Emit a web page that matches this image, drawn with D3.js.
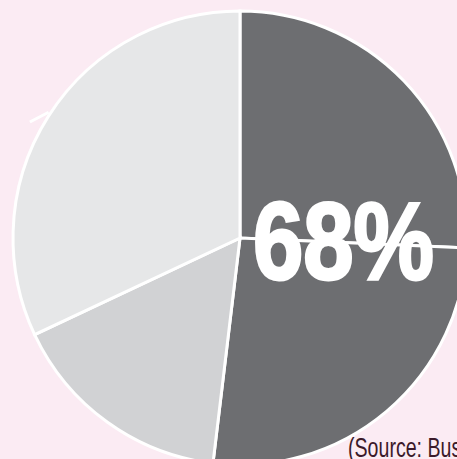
<!DOCTYPE html>
<html lang="en">
	<head>
		<meta charset="utf-8">
		<title>68% pie</title>
		<script type="text/javascript" src="https://d3js.org/d3.v7.min.js"></script>
		<style type="text/css">
            html, body {
                margin: 0;
                padding: 0;
                background: #fbebf3;
                overflow: hidden;
            }
            .slice {
                stroke: #ffffff;
                stroke-width: 3px;
            }
            .big {
                font-family: "Liberation Sans", Arial, sans-serif;
                font-weight: bold;
                fill: #ffffff;
                stroke: #ffffff;
                stroke-width: 3px;
            }
            .source {
                font-family: "Liberation Sans", Arial, sans-serif;
                fill: #3b1a2a;
            }
		</style>
	</head>
	<body>
		<script type="text/javascript">

            //slices clockwise from 12 o'clock (percent of the circle)
            var sliceNames = ["a", "b", "c", "d"];
            var sliceValues = [25.7, 26.2, 16.1, 32.0];
            var sliceColors = ["#6d6e71", "#6d6e71", "#d1d2d4", "#e6e7e8"];
            var bigLabel = "68%";
            var sourceLabel = "(Source: Business";

			//Width and height
			var w = 457;
			var h = 459;
            var cx = 240, cy = 238, r = 227;

			var svg = d3.select("body")
				.append("svg")
				.attr("width", w)
				.attr("height", h);

            var pie = d3.pie()
                .sort(null)
                .value(function(d, i) { return sliceValues[i]; });

            var arc = d3.arc()
                .innerRadius(0)
                .outerRadius(r);

            var g = svg.append("g")
                .attr("transform", "translate(" + cx + "," + cy + ")");

            var arcs = pie(sliceNames);

            g.selectAll("path")
                .data(arcs)
                .enter()
                .append("path")
                .attr("class", "slice")
                .attr("d", arc)
                .style("fill", function(d, i) { return sliceColors[i]; });

            //small leader stub on the left edge of the light slice
            var stubA = d3.pointRadial(303.3 * Math.PI / 180, r + 2);
            var stubB = d3.pointRadial(298.9 * Math.PI / 180, r + 13);
            g.append("line")
                .attr("x1", stubA[0]).attr("y1", stubA[1])
                .attr("x2", stubB[0]).attr("y2", stubB[1])
                .style("stroke", "#ffffff")
                .style("stroke-width", 3);

            //condensed look: squeeze the text horizontally
            svg.append("text")
                .attr("class", "big")
                .attr("transform", "translate(253,279) scale(0.83,1)")
                .style("font-size", "109px")
                .text(bigLabel);

            svg.append("text")
                .attr("class", "source")
                .attr("transform", "translate(348,457) scale(0.7,1)")
                .style("font-size", "28px")
                .text(sourceLabel);

		</script>
	</body>
</html>
